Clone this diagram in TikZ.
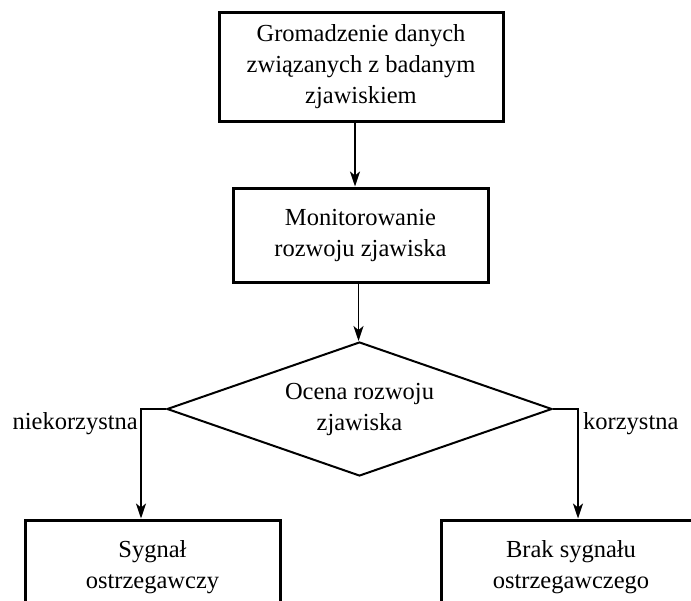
\documentclass[tikz,border=0pt]{standalone}
\usepackage{fontspec}
\setmainfont{Liberation Serif}
\newfontfamily\tnrfont{Liberation Serif}
\usetikzlibrary{shapes.geometric,arrows.meta}
\begin{document}
\begin{tikzpicture}[x=1pt,y=-1pt,
  txt/.style={font=\tnrfont\fontsize{24.5}{31}\selectfont},
  box/.style={txt,draw,line width=3pt,rectangle,align=center,inner sep=0pt},
  dec/.style={txt,draw,line width=2pt,diamond,aspect=2.87,align=center,inner sep=0pt,
    minimum width=385pt,minimum height=134pt},
  conn/.style={line width=1.8pt},
  arr/.style={conn,-{Stealth[length=15pt,width=10pt,inset=4pt]}},
  lab/.style={txt,inner sep=0pt}]
\useasboundingbox (0,0) rectangle (691,600);
\clip (0,0) rectangle (691,600);
\node[box,minimum width=284pt,minimum height=109pt] (b1) at (361,66.5)
  {Gromadzenie danych\\związanych z badanym\\zjawiskiem};
\node[box,minimum width=255pt,minimum height=94pt] (b2) at (360.5,235)
  {Monitorowanie\\rozwoju zjawiska};
\node[dec] (d) at (359.5,409) {Ocena rozwoju\\zjawiska};
\node[box,minimum width=255pt,minimum height=94pt] (s1) at (152.5,567)
  {Sygnał\\ostrzegawczy};
\node[box,minimum width=260pt,minimum height=94pt] (s2) at (571,567)
  {Brak sygnału\\ostrzegawczego};
\coordinate (lk) at (141,409);
\coordinate (rk) at (578,409);
\draw[arr] ([xshift=-6pt]b1.south) -- ([xshift=-6pt]b1.south |- b2.north);
\draw[arr] ([xshift=-2pt]b2.south) -- ([xshift=-2pt]b2.south |- d.north);
\draw[arr] (d.west) -- (lk) -- (lk |- s1.north);
\draw[arr] (d.east) -- (rk) -- (rk |- s2.north);
\node[lab,anchor=east] (ln) at (138,424) {niekorzystna};
\node[lab,anchor=west] (lp) at (583,424) {korzystna};
\end{tikzpicture}
\end{document}
